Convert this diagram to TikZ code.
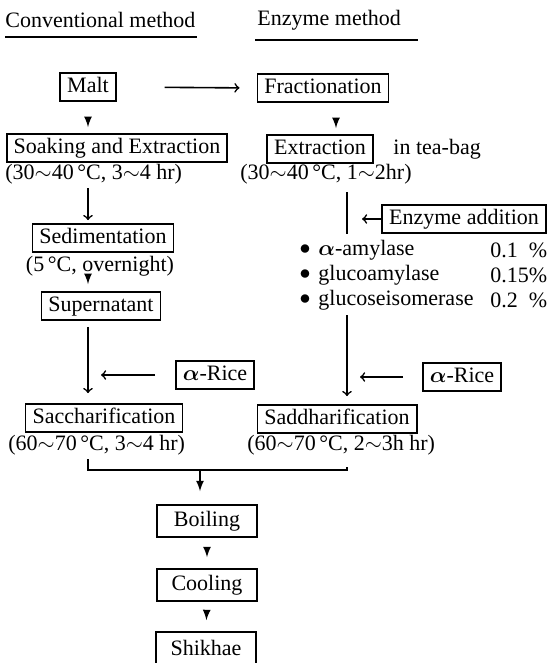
\documentclass[tikz,border=0pt]{standalone}
\usepackage{fontspec}
\setmainfont{Liberation Serif}
\usepackage{amsmath}
\usetikzlibrary{arrows,positioning}
\tikzset{
  stepbox/.style={draw, line width=0.8pt, inner xsep=3.5pt, inner ysep=1.8pt, text height=8pt, text depth=2.5pt},
  widebox/.style={stepbox, minimum width=50pt, minimum height=16pt},
  note/.style={inner sep=0pt},
  smallarrow/.style={-latex, line width=0.8pt},
  longarrow/.style={->, line width=0.8pt},
}

\begin{document}
\begin{tikzpicture}[x=0.5pt, y=-0.5pt, font=\fontsize{11}{13}\selectfont]
\useasboundingbox (0,0) rectangle (547,663);
\node[note, anchor=west] (conv) at (5,20) {Conventional method};
\node[note, anchor=west] (enz) at (257,20) {Enzyme method};
\draw[line width=0.8pt] (5,37) -- (197,37);
\draw[line width=0.8pt] (255,40) -- (418,40);

\coordinate (lcol) at (88,0);
\coordinate (rcol) at (347,0);

\node[stepbox] (malt) at (88,87) {Malt};
\node[stepbox] (frac) at (323,88) {Fractionation};
\node[stepbox] (soak) at (117,148) {Soaking and Extraction};
\node[note, anchor=west] (soakc) at (5,174) {(30$\sim$40\,°C, 3$\sim$4 hr)};
\node[stepbox] (extr) at (320,149) {Extraction};
\node[note, anchor=west] (bag) at (393,149) {in tea-bag};
\node[note, anchor=west] (extrc) at (240,174) {(30$\sim$40\,°C, 1$\sim$2hr)};
\node[stepbox] (sedi) at (103,238) {Sedimentation};
\node[note] (sedic) at (100,266) {(5\,°C, overnight)};
\node[stepbox] (super) at (101,306) {Supernatant};
\node[stepbox] (ricea) at (215,375) {$\boldsymbol{\alpha}$-Rice};
\node[stepbox] (sacc) at (104,418) {Saccharification};
\node[note, anchor=west] (saccc) at (8,445) {(60$\sim$70\,°C, 3$\sim$4 hr)};

\node[stepbox] (enzadd) at (464,219) {Enzyme addition};
\node[note] (bula) at (305,250) {$\bullet$};
\node[note, anchor=west] (amy) at (318,250) {$\boldsymbol{\alpha}$-amylase};
\node[note, anchor=west] (amyp) at (490,250) {0.1\phantom{5}\%};
\node[note] (bulb) at (305,275) {$\bullet$};
\node[note, anchor=west] (gluc) at (318,275) {glucoamylase};
\node[note, anchor=west] (glucp) at (490,275) {0.15\%};
\node[note] (bulc) at (305,300) {$\bullet$};
\node[note, anchor=west] (iso) at (318,300) {glucoseisomerase};
\node[note, anchor=west] (isop) at (490,300) {0.2\phantom{5}\%};
\node[stepbox] (riceb) at (462,377) {$\boldsymbol{\alpha}$-Rice};
\node[stepbox] (sadd) at (337,419) {Saddharification};
\node[note, anchor=west] (saddc) at (247,445) {(60$\sim$70\,°C, 2$\sim$3h hr)};

\node[widebox] (boil) at (207,521) {Boiling};
\node[widebox] (cool) at (207,585) {Cooling};
\node[widebox, minimum height=18pt] (shik) at (206,650) {Shikhae};

\coordinate (enzend) at (347,234);
\coordinate (enzstart) at (347,315);
\coordinate (merge) at (200,470);

\draw[longarrow, shorten <=24pt, shorten >=8.5pt] (malt.east) -- (frac.west);
\draw[smallarrow, shorten <=7.5pt, shorten >=3pt] (malt.south) -- (malt.south |- soak.north);
\draw[smallarrow, shorten <=7.5pt, shorten >=3pt] ([xshift=6.5pt]frac.south) -- ([xshift=6.5pt]frac.south |- extr.north);
\draw[longarrow, shorten <=2pt, shorten >=1.5pt] (soakc.south -| lcol) -- (sedi.north -| lcol);
\draw[smallarrow, shorten <=1pt, shorten >=3.5pt] (sedic.south -| lcol) -- (super.north -| lcol);
\draw[longarrow, shorten <=3pt, shorten >=5pt] (super.south -| lcol) -- (sacc.north -| lcol);
\draw[longarrow, shorten <=10pt, shorten >=6.5pt] (ricea.west) -- (ricea.west -| lcol);

\draw[line width=0.8pt, shorten <=4pt] (extrc.south -| rcol) -- (enzend);
\draw[longarrow, shorten >=7.5pt] (enzadd.west) -- (enzadd.west -| rcol);
\draw[longarrow, shorten >=4pt] (enzstart) -- (sadd.north -| rcol);
\draw[longarrow, shorten <=9.5pt, shorten >=6.5pt] (riceb.west) -- (riceb.west -| rcol);

\draw[line width=0.8pt, shorten <=2pt, shorten >=6pt] (saccc.south -| lcol) |- (merge) -| (saddc.south -| rcol);
\draw[smallarrow, shorten >=6.5pt] (merge) -- (merge |- boil.north);
\draw[smallarrow, shorten <=5.5pt, shorten >=5.5pt] (boil.south) -- (cool.north);
\draw[smallarrow, shorten <=5.5pt, shorten >=5.5pt] (cool.south) -- (shik.north);
\end{tikzpicture}
\end{document}
